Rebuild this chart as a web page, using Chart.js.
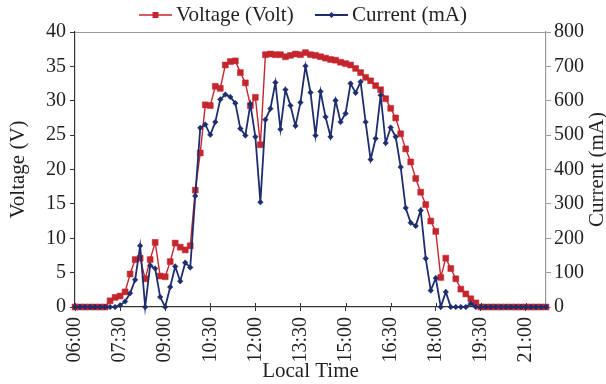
<!DOCTYPE html>
<html>
<head>
<meta charset="utf-8">
<script src="https://cdn.jsdelivr.net/npm/chart.js@4"></script>
<style>
  body { margin: 0; background: #fff; }
</style>
</head>
<body>
<canvas id="chart" width="606" height="384"></canvas>
<script>
// 10-minute samples, 06:00 - 21:40
const timeLabels = [
  "06:00","06:10","06:20","06:30","06:40","06:50",
  "07:00","07:10","07:20","07:30","07:40","07:50",
  "08:00","08:10","08:20","08:30","08:40","08:50",
  "09:00","09:10","09:20","09:30","09:40","09:50",
  "10:00","10:10","10:20","10:30","10:40","10:50",
  "11:00","11:10","11:20","11:30","11:40","11:50",
  "12:00","12:10","12:20","12:30","12:40","12:50",
  "13:00","13:10","13:20","13:30","13:40","13:50",
  "14:00","14:10","14:20","14:30","14:40","14:50",
  "15:00","15:10","15:20","15:30","15:40","15:50",
  "16:00","16:10","16:20","16:30","16:40","16:50",
  "17:00","17:10","17:20","17:30","17:40","17:50",
  "18:00","18:10","18:20","18:30","18:40","18:50",
  "19:00","19:10","19:20","19:30","19:40","19:50",
  "20:00","20:10","20:20","20:30","20:40","20:50",
  "21:00","21:10","21:20","21:30","21:40"
];

// Voltage (V)
const voltage = [
  0, 0, 0, 0, 0, 0, 0, 0.9, 1.4, 1.6,
  2.2, 4.8, 6.9, 7.1, 4.1, 6.9, 9.4, 4.5, 4.4, 6.6,
  9.3, 8.7, 8.3, 8.9, 17.0, 22.4, 29.4, 29.3, 32.1, 31.8,
  35.2, 35.7, 35.8, 34.1, 32.6, 29.3, 30.5, 23.6, 36.7, 36.8,
  36.7, 36.7, 36.4, 36.6, 36.8, 36.7, 37.0, 36.7, 36.6, 36.4,
  36.2, 36.0, 35.9, 35.6, 35.4, 35.2, 34.7, 34.1, 33.4, 32.9,
  32.2, 31.6, 30.3, 28.9, 27.5, 25.2, 23.0, 21.1, 18.7, 16.7,
  14.9, 12.5, 11.0, 4.3, 7.1, 5.6, 4.1, 2.6, 1.9, 1.2,
  0.6, 0, 0, 0, 0, 0, 0, 0, 0, 0,
  0, 0, 0, 0, 0
];

// Current (mA)
const current = [
  0, 0, 0, 0, 0, 0, 0, 0, 0, 5,
  16, 40, 79, 178, 0, 121, 112, 29, 0, 58,
  118, 75, 129, 115, 323, 521, 531, 501, 538, 604,
  618, 611, 593, 519, 499, 590, 495, 305, 545, 577,
  653, 517, 632, 586, 527, 595, 701, 624, 499, 627,
  553, 495, 601, 538, 563, 650, 623, 655, 538, 429,
  490, 616, 477, 522, 495, 407, 288, 245, 236, 281,
  141, 48, 84, 0, 44, 0, 0, 0, 0, 10,
  0, 0, 0, 0, 0, 0, 0, 0, 0, 0,
  0, 0, 0, 0, 0
];

const labelEvery = 9; // one time label per 1.5 h

const RED = '#C4262E';
const BLUE = '#1E2D6E';
const TEXT = '#231F20';
const FONT = "'Liberation Serif', 'DejaVu Serif', serif";
const TITLE_SIZE = 21;

Chart.defaults.font.family = FONT;
Chart.defaults.font.size = 20;
Chart.defaults.color = TEXT;

// top frame, inner x ticks, right title and legend
const extras = {
  id: 'extras',
  afterDraw(chart) {
    const ctx = chart.ctx;
    const a = chart.chartArea;
    ctx.save();

    ctx.strokeStyle = '#9A9A9A';
    ctx.lineWidth = 1;
    ctx.beginPath();
    ctx.moveTo(a.left, a.top + 0.5);
    ctx.lineTo(a.right, a.top + 0.5);
    ctx.stroke();

    const xs = chart.scales.x;
    ctx.strokeStyle = '#333';
    ctx.beginPath();
    xs.ticks.forEach((t, i) => {
      const px = Math.round(xs.getPixelForTick(i)) + 0.5;
      ctx.moveTo(px, a.bottom - 4);
      ctx.lineTo(px, a.bottom);
    });
    ctx.stroke();

    ctx.font = TITLE_SIZE + 'px ' + FONT;
    ctx.fillStyle = TEXT;
    ctx.textBaseline = 'middle';

    ctx.save();
    ctx.translate(597, (a.top + a.bottom) / 2);
    ctx.rotate(-Math.PI / 2);
    ctx.textAlign = 'center';
    ctx.fillText('Current (mA)', 0, 0);
    ctx.restore();

    const items = [
      { text: 'Voltage (Volt)', color: RED, x: 139, shape: 'rect', lw: 1.4 },
      { text: 'Current (mA)', color: BLUE, x: 315, shape: 'diamond', lw: 1.8 }
    ];
    const ly = 15;
    items.forEach(it => {
      ctx.strokeStyle = it.color;
      ctx.fillStyle = it.color;
      ctx.lineWidth = it.lw;
      ctx.beginPath();
      ctx.moveTo(it.x, ly);
      ctx.lineTo(it.x + 33, ly);
      ctx.stroke();
      const cx = it.x + 16.5;
      ctx.beginPath();
      if (it.shape === 'rect') {
        ctx.rect(cx - 3, ly - 3, 6, 6);
      } else {
        ctx.moveTo(cx, ly - 3);
        ctx.lineTo(cx + 3, ly);
        ctx.lineTo(cx, ly + 3);
        ctx.lineTo(cx - 3, ly);
        ctx.closePath();
      }
      ctx.fill();
      ctx.fillStyle = TEXT;
      ctx.textAlign = 'left';
      ctx.fillText(it.text, it.x + 37, ly);
    });

    ctx.restore();
  }
};

new Chart(document.getElementById('chart'), {
  type: 'line',
  data: {
    labels: timeLabels,
    datasets: [
      {
        label: 'Voltage (Volt)',
        data: voltage,
        yAxisID: 'y',
        borderColor: RED,
        backgroundColor: RED,
        borderWidth: 1.4,
        pointStyle: 'rect',
        pointRadius: 4.2,
        pointBorderWidth: 0.5,
        tension: 0,
        clip: false,
        order: 2
      },
      {
        label: 'Current (mA)',
        data: current,
        yAxisID: 'y1',
        borderColor: BLUE,
        backgroundColor: BLUE,
        borderWidth: 1.8,
        pointStyle: 'rectRot',
        pointRadius: 2.8,
        pointBorderWidth: 0.5,
        tension: 0,
        clip: false,
        order: 1
      }
    ]
  },
  options: {
    responsive: false,
    animation: false,
    devicePixelRatio: 1,
    layout: { padding: { top: 32, left: 0, right: 0, bottom: 0 } },
    plugins: {
      legend: { display: false },
      tooltip: { enabled: false }
    },
    scales: {
      x: {
        type: 'category',
        offset: false,
        afterBuildTicks: s => { s.ticks = s.ticks.filter((t, i) => i % labelEvery === 0); },
        afterFit: s => { s.height = 77; },
        grid: { drawOnChartArea: false, tickLength: 4, color: '#333' },
        border: { color: '#333', width: 1.2 },
        ticks: { autoSkip: false, minRotation: 90, maxRotation: 90, padding: 6 },
        title: { display: true, text: 'Local Time', padding: 0, font: { size: TITLE_SIZE } }
      },
      y: {
        position: 'left',
        min: 0,
        max: 40,
        afterFit: s => { s.width = 75; },
        grid: { drawOnChartArea: false, tickLength: 5, color: '#333' },
        border: { color: '#333', width: 1.2 },
        ticks: { stepSize: 5, padding: 4 },
        title: { display: true, text: 'Voltage (V)', padding: { top: 6 }, font: { size: TITLE_SIZE } }
      },
      y1: {
        position: 'right',
        min: 0,
        max: 800,
        afterFit: s => { s.width = 60; },
        grid: { drawOnChartArea: false, tickLength: 5, color: '#9A9A9A' },
        border: { color: '#9A9A9A', width: 1.2 },
        ticks: { stepSize: 100, padding: 3 }
      }
    }
  },
  plugins: [extras]
});
</script>
</body>
</html>
